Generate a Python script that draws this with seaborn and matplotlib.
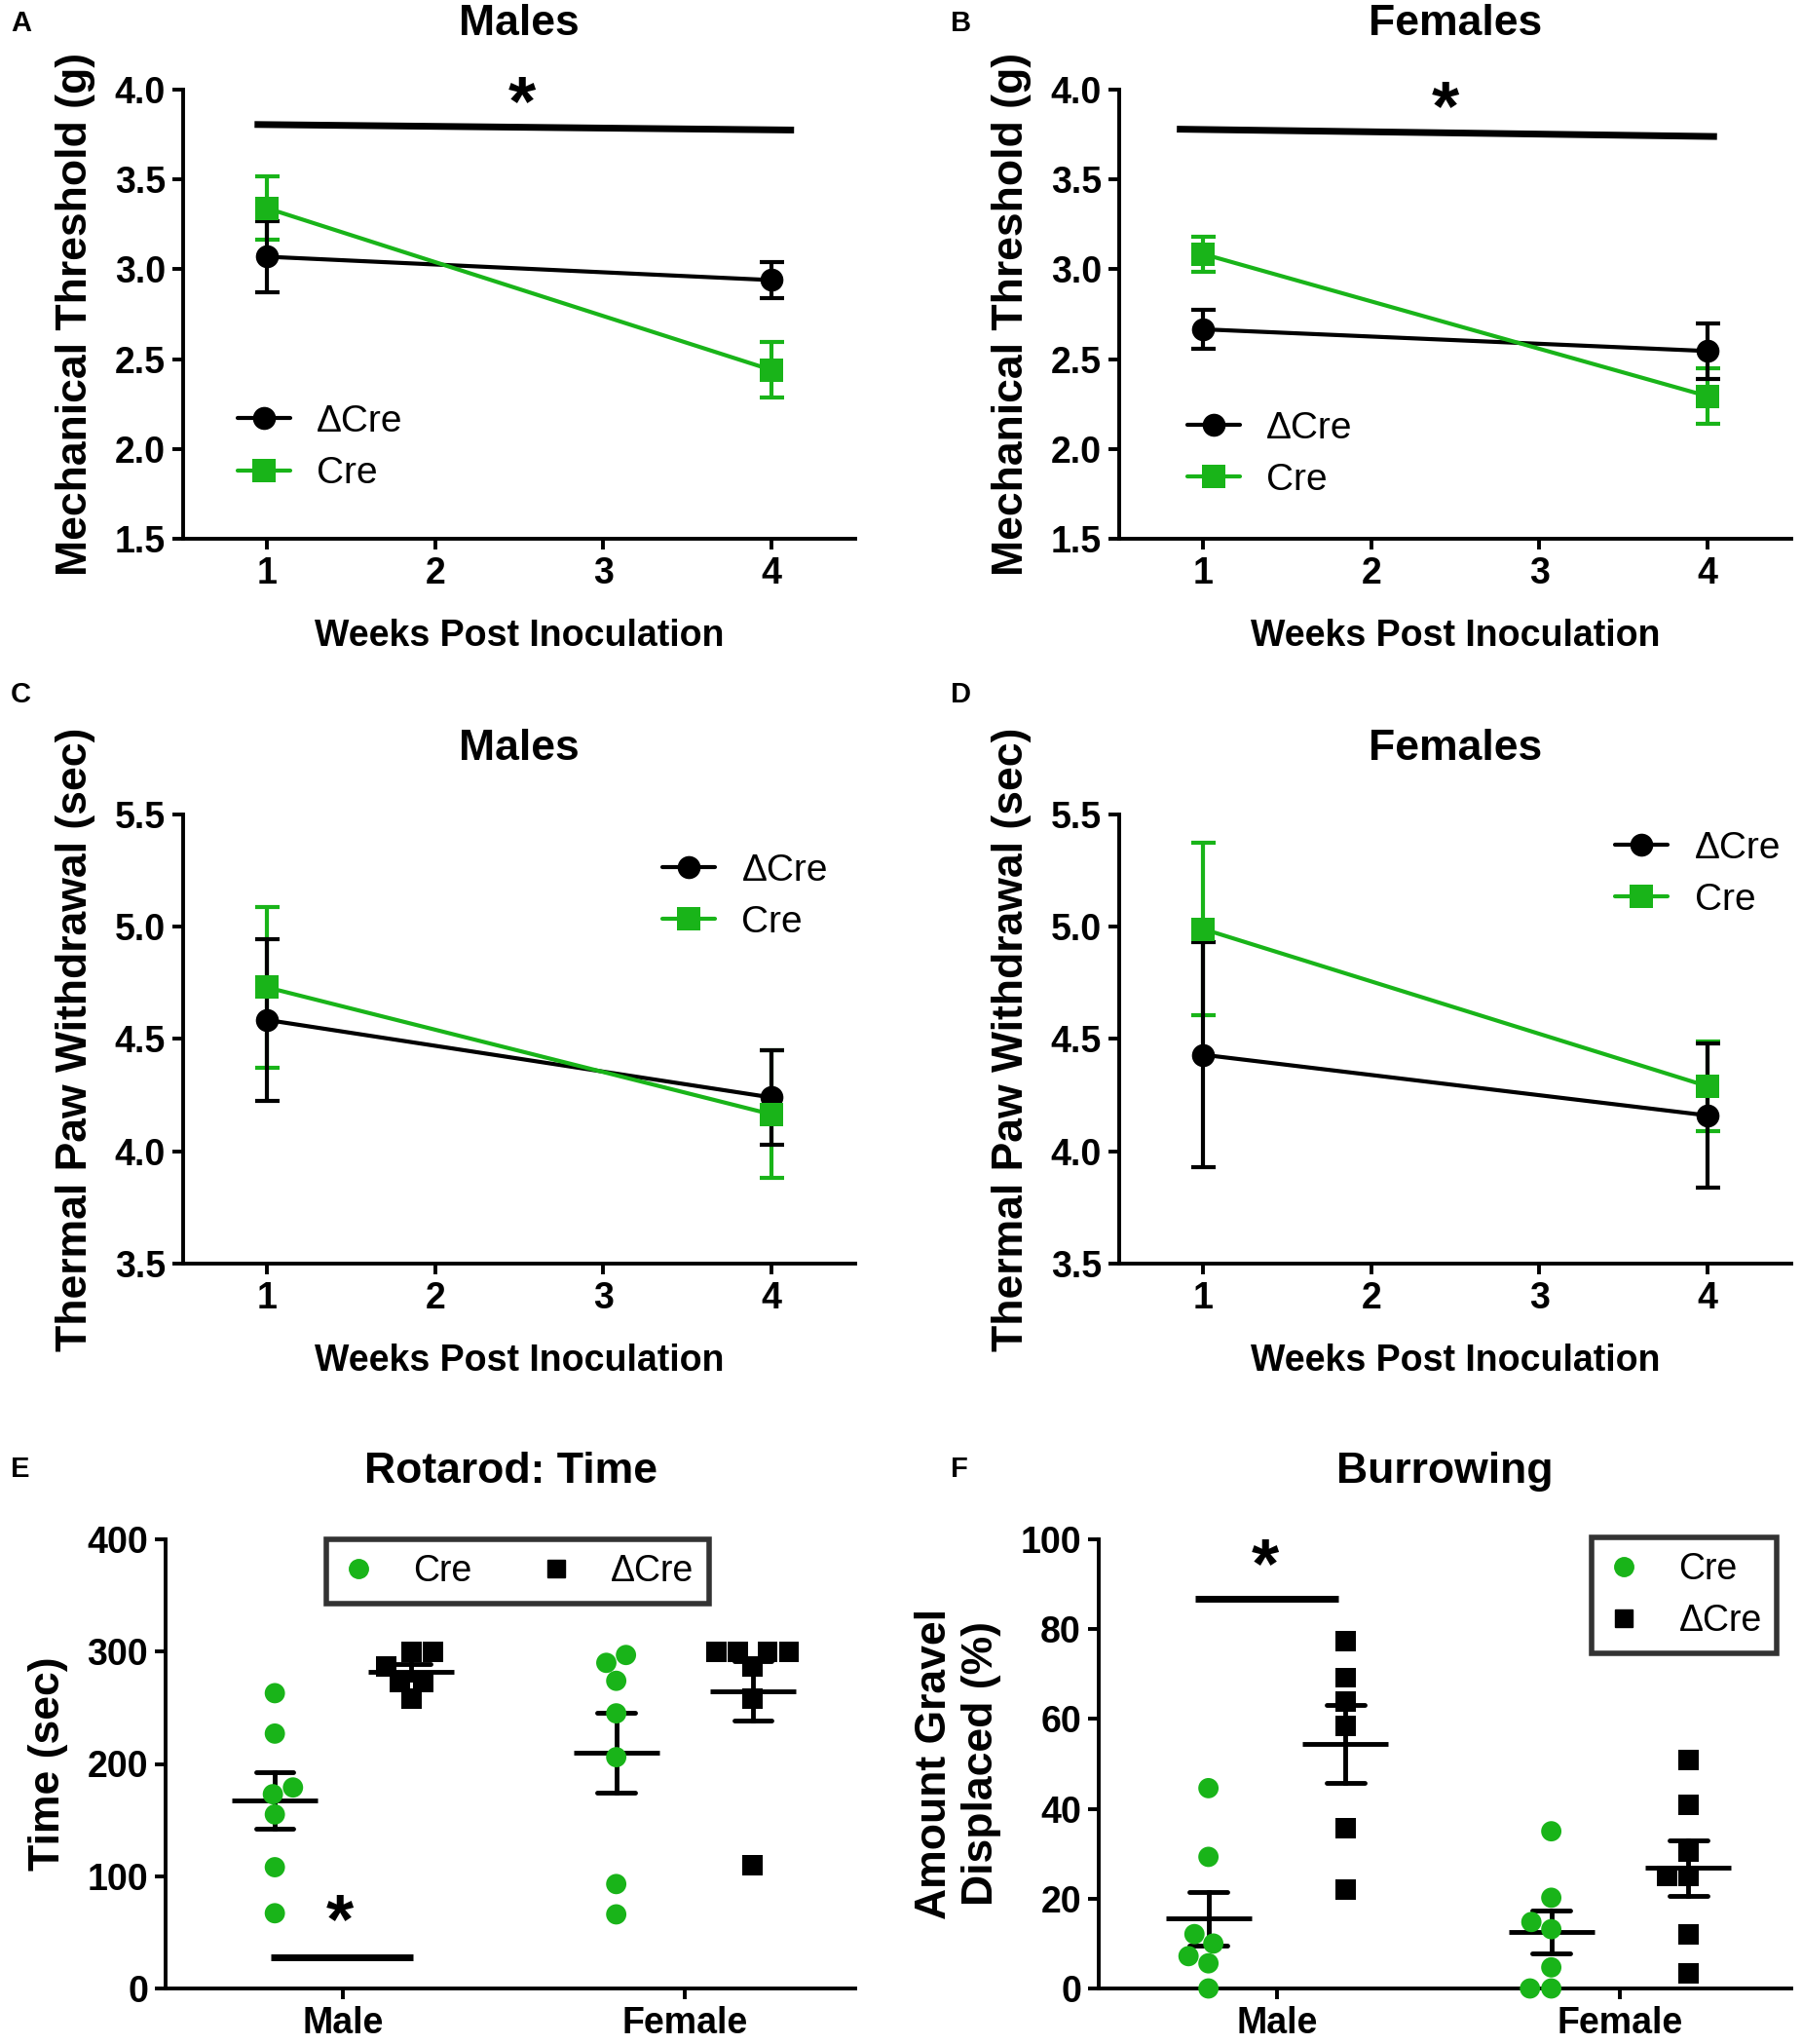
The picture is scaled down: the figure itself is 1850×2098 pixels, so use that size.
import numpy as np
import pandas as pd
import seaborn as sns
import matplotlib.pyplot as plt
from matplotlib.lines import Line2D

green = '#19b419'
weeks = [1, 4]

# mechanical threshold (g), mean / sem at weeks 1 and 4
mech_male_dcre = [3.07, 2.94]
mech_male_dcre_sem = [0.20, 0.10]
mech_male_cre = [3.34, 2.44]
mech_male_cre_sem = [0.175, 0.155]
mech_female_dcre = [2.666, 2.545]
mech_female_dcre_sem = [0.107, 0.155]
mech_female_cre = [3.085, 2.294]
mech_female_cre_sem = [0.097, 0.153]

# thermal paw withdrawal (sec)
therm_male_dcre = [4.585, 4.24]
therm_male_dcre_sem = [0.36, 0.21]
therm_male_cre = [4.73, 4.165]
therm_male_cre_sem = [0.36, 0.285]
therm_female_dcre = [4.43, 4.16]
therm_female_dcre_sem = [0.50, 0.32]
therm_female_cre = [4.99, 4.29]
therm_female_cre_sem = [0.385, 0.20]

# rotarod time (sec), single animals
rot_male_cre = [263, 227, 179, 173, 155, 108, 67]
rot_male_dcre = [300, 300, 287, 273, 273, 258]
rot_female_cre = [297, 290, 274, 245, 206, 93, 66]
rot_female_dcre = [300, 300, 300, 300, 287, 258, 110]

# burrowing, gravel displaced (%)
bur_male_cre = [44.6, 29.3, 12.1, 10.0, 7.2, 5.6, 0.0]
bur_male_dcre = [77.3, 69.2, 63.9, 58.5, 35.7, 22.0]
bur_female_cre = [35.0, 20.2, 14.8, 13.2, 4.7, 0.0, 0.0]
bur_female_dcre = [50.9, 40.8, 30.5, 25.0, 25.0, 12.1, 3.3]

sns.set_theme(style='ticks')
plt.rcParams['font.family'] = ['Liberation Sans', 'DejaVu Sans']
plt.rcParams['text.color'] = 'black'
plt.rcParams['axes.labelcolor'] = 'black'
plt.rcParams['xtick.color'] = 'black'
plt.rcParams['ytick.color'] = 'black'
narrow = ['Liberation Sans Narrow', 'Liberation Sans', 'DejaVu Sans']

fig = plt.figure(figsize=(18.5, 20.98), dpi=100)
W, H = 1850, 2098


def px_axes(left, top, right, bottom):
    return fig.add_axes([left / W, 1 - bottom / H, (right - left) / W, (bottom - top) / H])


def style_axes(ax):
    sns.despine(ax=ax)
    for s in ['left', 'bottom']:
        ax.spines[s].set_linewidth(2.8)
        ax.spines[s].set_color('black')
    ax.tick_params(width=2.8, length=8, color='black', pad=5)
    for lab in ax.get_xticklabels() + ax.get_yticklabels():
        lab.set_family(narrow)
        lab.set_fontweight('bold')
        lab.set_fontsize(27)
        lab.set_color('black')


def line_panel(ax, dcre, dcre_sem, cre, cre_sem, title, ylabel, ylim, yticks, leg_loc, leg_anchor):
    df = pd.DataFrame({'week': weeks * 2, 'value': dcre + cre,
                       'group': ['ΔCre'] * 2 + ['Cre'] * 2})
    ax.errorbar(weeks, cre, yerr=cre_sem, fmt='none', ecolor=green, elinewidth=3,
                capsize=9, capthick=3, zorder=2)
    ax.errorbar(weeks, dcre, yerr=dcre_sem, fmt='none', ecolor='black', elinewidth=3,
                capsize=9, capthick=3, zorder=2)
    sns.lineplot(data=df, x='week', y='value', hue='group', style='group',
                 hue_order=['ΔCre', 'Cre'], markers={'ΔCre': 'o', 'Cre': 's'}, dashes=False,
                 palette={'ΔCre': 'black', 'Cre': green}, markersize=17, linewidth=3,
                 markeredgewidth=0, legend=False, ax=ax, zorder=3)
    ax.set_xlim(0.5, 4.5)
    ax.set_xticks([1, 2, 3, 4])
    ax.set_ylim(*ylim)
    ax.set_yticks(yticks)
    ax.set_yticklabels([f'{t:.1f}' for t in yticks])
    ax.set_xlabel('Weeks Post Inoculation', fontsize=27, fontweight='bold', labelpad=20)
    ax.set_ylabel(ylabel, fontsize=32, fontweight='bold', labelpad=14)
    ax.set_title(title, fontsize=32, fontweight='bold', pad=40)
    style_axes(ax)
    handles = [Line2D([], [], color='black', marker='o', markersize=17, lw=3, markeredgewidth=0),
               Line2D([], [], color=green, marker='s', markersize=17, lw=3, markeredgewidth=0)]
    ax.legend(handles, ['ΔCre', 'Cre'], loc=leg_loc, bbox_to_anchor=leg_anchor,
              frameon=False, handlelength=1.4, handletextpad=0.7, labelspacing=0.45,
              prop={'family': narrow, 'size': 28})


def scatter_panel(ax, male_cre, male_dcre, female_cre, female_dcre, title, ylabel, ylim, yticks):
    df = pd.DataFrame({
        'sex': ['Male'] * (len(male_cre) + len(male_dcre)) + ['Female'] * (len(female_cre) + len(female_dcre)),
        'geno': ['Cre'] * len(male_cre) + ['ΔCre'] * len(male_dcre) + ['Cre'] * len(female_cre) + ['ΔCre'] * len(female_dcre),
        'value': male_cre + male_dcre + female_cre + female_dcre,
    })
    for geno, marker, color in [('Cre', 'o', green), ('ΔCre', 's', 'black')]:
        sns.swarmplot(data=df[df.geno == geno], x='sex', y='value', hue='geno',
                      hue_order=['Cre', 'ΔCre'], order=['Male', 'Female'], dodge=True,
                      palette={'Cre': green, 'ΔCre': 'black'}, marker=marker, size=15,
                      linewidth=0, legend=False, ax=ax)
    sns.pointplot(data=df, x='sex', y='value', hue='geno', hue_order=['Cre', 'ΔCre'],
                  order=['Male', 'Female'], dodge=0.4, errorbar='se', palette=['black', 'black'],
                  markers='_', markersize=64, markeredgewidth=3.5, linestyle='none',
                  capsize=0.11, err_kws={'linewidth': 3.5}, legend=False, ax=ax)
    for c in ax.collections:
        c.set_clip_on(False)
    ax.set_xlim(-0.52, 1.5)
    ax.set_ylim(*ylim)
    ax.set_yticks(yticks)
    ax.set_xlabel('')
    ax.set_ylabel(ylabel, fontsize=32, fontweight='bold', labelpad=14)
    ax.set_title(title, fontsize=32, fontweight='bold', pad=42)
    style_axes(ax)


# A / B
axA = px_axes(188, 92, 878, 553)
line_panel(axA, mech_male_dcre, mech_male_dcre_sem, mech_male_cre, mech_male_cre_sem,
           'Males', 'Mechanical Threshold (g)', (1.5, 4.0), [1.5, 2.0, 2.5, 3.0, 3.5, 4.0],
           'lower left', (0.03, 0.03))
axA.plot([0.925, 4.136], [3.806, 3.775], color='black', lw=5, solid_capstyle='butt')
axA.text(2.517, 3.91, '*', fontsize=52, fontweight='bold', ha='center', va='center')

axB = px_axes(1149, 92, 1839, 553)
line_panel(axB, mech_female_dcre, mech_female_dcre_sem, mech_female_cre, mech_female_cre_sem,
           'Females', 'Mechanical Threshold (g)', (1.5, 4.0), [1.5, 2.0, 2.5, 3.0, 3.5, 4.0],
           'lower left', (0.05, 0.015))
axB.plot([0.843, 4.058], [3.78, 3.739], color='black', lw=5, solid_capstyle='butt')
axB.text(2.44, 3.88, '*', fontsize=52, fontweight='bold', ha='center', va='center')

# C / D
axC = px_axes(188, 836, 878, 1297)
line_panel(axC, therm_male_dcre, therm_male_dcre_sem, therm_male_cre, therm_male_cre_sem,
           'Males', 'Thermal Paw Withdrawal (sec)', (3.5, 5.5), [3.5, 4.0, 4.5, 5.0, 5.5],
           'upper right', (1.01, 0.99))

axD = px_axes(1149, 836, 1839, 1297)
line_panel(axD, therm_female_dcre, therm_female_dcre_sem, therm_female_cre, therm_female_cre_sem,
           'Females', 'Thermal Paw Withdrawal (sec)', (3.5, 5.5), [3.5, 4.0, 4.5, 5.0, 5.5],
           'upper right', (1.035, 1.04))

# E / F
axE = px_axes(170, 1580, 878, 2041)
scatter_panel(axE, rot_male_cre, rot_male_dcre, rot_female_cre, rot_female_dcre,
              'Rotarod: Time', 'Time (sec)', (0, 400), [0, 100, 200, 300, 400])
axE.plot([-0.213, 0.204], [27.5, 27.5], color='black', lw=5, solid_capstyle='butt')
axE.text(-0.01, 57, '*', fontsize=52, fontweight='bold', ha='center', va='center')

axF = px_axes(1128, 1580, 1839, 2041)
scatter_panel(axF, bur_male_cre, bur_male_dcre, bur_female_cre, bur_female_dcre,
              'Burrowing', 'Amount Gravel\nDisplaced (%)', (0, 100), [0, 20, 40, 60, 80, 100])
axF.plot([-0.24, 0.18], [86.7, 86.7], color='black', lw=5, solid_capstyle='butt')
axF.text(-0.034, 93.5, '*', fontsize=52, fontweight='bold', ha='center', va='center')

sc_handles = [Line2D([], [], color=green, marker='o', markersize=14, lw=0),
              Line2D([], [], color='black', marker='s', markersize=13, lw=0)]
for ax, ncol, loc, anchor in [(axE, 2, 'upper center', (0.51, 1.04)),
                              (axF, 1, 'upper right', (1.005, 1.045))]:
    leg = ax.legend(sc_handles, ['Cre', 'ΔCre'], ncol=ncol, loc=loc, bbox_to_anchor=anchor,
                    frameon=True, fancybox=False, edgecolor='black', handlelength=1.0,
                    handletextpad=1.0, columnspacing=1.8, labelspacing=0.45, borderpad=0.4,
                    prop={'family': narrow, 'size': 27})
    leg.get_frame().set_linewidth(4)

for lab in axE.get_xticklabels() + axF.get_xticklabels():
    lab.set_fontsize(27)

for letter, x, y in [('A', 11, 24), ('B', 976, 24), ('C', 11, 713),
                     ('D', 976, 713), ('E', 11, 1508), ('F', 976, 1508)]:
    fig.text(x / W, 1 - y / H, letter, fontsize=21, fontweight='bold', ha='left', va='center')

fig.savefig('out.png', dpi=100)
